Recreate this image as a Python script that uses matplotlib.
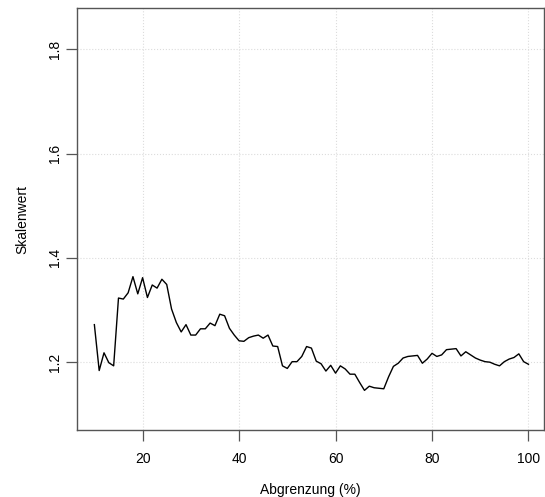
import matplotlib
matplotlib.use("Agg")
import matplotlib.pyplot as plt
import numpy as np

plt.rcParams['font.family'] = ['Liberation Sans', 'DejaVu Sans']

# Abgrenzung in Prozent, 10..100
abgrenzung = list(range(10, 101))
skalenwert = [
    1.272, 1.184, 1.218, 1.199, 1.193, 1.323, 1.321, 1.333, 1.364, 1.331,   # 10-19
    1.362, 1.324, 1.348, 1.342, 1.359, 1.349, 1.302, 1.276, 1.258, 1.272,   # 20-29
    1.252, 1.252, 1.264, 1.264, 1.275, 1.270, 1.292, 1.289, 1.265, 1.252,   # 30-39
    1.241, 1.240, 1.247, 1.250, 1.252, 1.246, 1.252, 1.231, 1.230, 1.193,   # 40-49
    1.188, 1.201, 1.201, 1.211, 1.230, 1.227, 1.202, 1.197, 1.183, 1.194,   # 50-59
    1.179, 1.193, 1.187, 1.177, 1.177, 1.161, 1.146, 1.154, 1.151, 1.150,   # 60-69
    1.149, 1.172, 1.192, 1.198, 1.208, 1.211, 1.212, 1.213, 1.198, 1.206,   # 70-79
    1.217, 1.211, 1.214, 1.224, 1.225, 1.226, 1.212, 1.220, 1.214, 1.208,   # 80-89
    1.204, 1.201, 1.200, 1.196, 1.193, 1.201, 1.206, 1.209, 1.216, 1.201,   # 90-99
    1.196,                                                                   # 100
]
x_ticks = [20, 40, 60, 80, 100]
y_ticks = [1.2, 1.4, 1.6, 1.8]

fig = plt.figure(figsize=(5.45, 4.97), dpi=100)
ax = fig.add_axes([77/545, 1 - 430/497, 1 - 77/545 - 0.002, (430 - 8)/497])

ax.plot(abgrenzung, skalenwert, color='black', linewidth=1.0)

ax.set_xlim(6.4, 103.2)
ax.set_ylim(1.070, 1.879)
ax.set_xticks(x_ticks)
ax.set_yticks(y_ticks)
ax.set_xticklabels([str(t) for t in x_ticks])
ax.set_yticklabels([str(t) for t in y_ticks], rotation=90, va='center')
ax.grid(True, color='#dcdcdc', linestyle=':', linewidth=0.8)
ax.set_axisbelow(True)

ax.tick_params(direction='out', length=8, width=0.9, colors='#555555',
               labelsize=10, labelcolor='black')
ax.tick_params(axis='x', pad=8)
ax.tick_params(axis='y', pad=3)
for s in ax.spines.values():
    s.set_color('#555555')
    s.set_linewidth(1.0)

ax.set_xlabel('Abgrenzung (%)', fontsize=10, labelpad=12)
ax.set_ylabel('Skalenwert', fontsize=10, labelpad=13)

fig.savefig('out.png', dpi=100)
